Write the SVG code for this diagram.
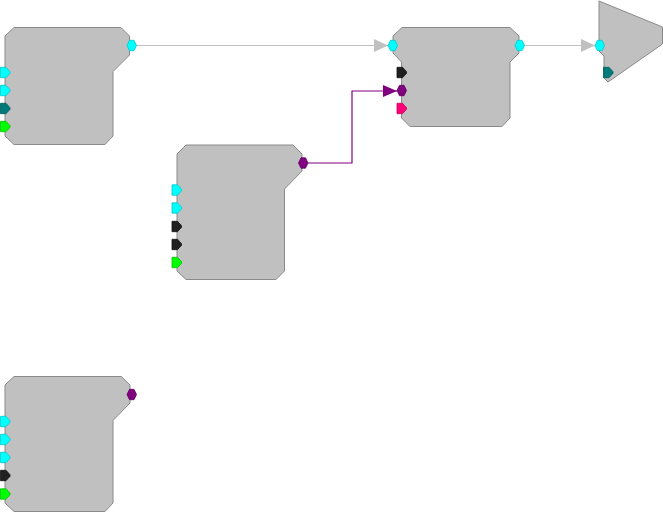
<svg xmlns="http://www.w3.org/2000/svg" width="663" height="512" viewBox="0 0 663 512">
<style>
.body{fill:#c0c0c0;stroke:#8a8a8a;stroke-width:1;stroke-linejoin:miter}
.cy{fill:#00ffff;stroke:#00c8c8}
.tl{fill:#007a7a;stroke:#005a5a}
.gr{fill:#00ff00;stroke:#00c000}
.bk{fill:#202020;stroke:#101010}
.pu{fill:#800080;stroke:#600060}
.pk{fill:#ff0078;stroke:#d00060}
.port{stroke-width:0.8;stroke-linejoin:round}
.wire-g{fill:none;stroke:#c0c0c0;stroke-width:1}
.wire-p{fill:none;stroke:#800080;stroke-width:1.2}
</style>
<defs>
<path id="pent" d="M0,-5.2 H5.5 L9.5,-0.8 V0.8 L5.5,5.2 H0 Z"/>
<path id="hex" d="M0,0 L2.5,-5.2 H7 L9.5,0 L7,5.2 H2.5 Z"/>
<marker id="ag" markerUnits="userSpaceOnUse" markerWidth="15" markerHeight="14" refX="14" refY="6.5" orient="auto">
<path d="M0,0 L14,6.5 L0,13 Z" fill="#c0c0c0"/>
</marker>
<marker id="ap" markerUnits="userSpaceOnUse" markerWidth="15" markerHeight="13" refX="14" refY="6" orient="auto">
<path d="M0,0 L14,6 L0,12 Z" fill="#800080"/>
</marker>
</defs>
<g id="connectors">
<path class="wire-g" d="M136,45.5 H388" marker-end="url(#ag)"/>
<path class="wire-g" d="M524,45.5 H595" marker-end="url(#ag)"/>
<path class="wire-p" d="M307.5,163 H352 V91 H397" marker-end="url(#ap)"/>
</g>
<g id="node1">
<path class="body" d="M5,36 L14,27.5 L121,27.5 L129.5,36 L129.5,55 L113,71.5 L113,136 L105,144.5 L14,144.5 L5,136 Z"/>
<use href="#pent" class="port cy" x="0.5" y="72.5"/>
<use href="#pent" class="port cy" x="0.5" y="90.5"/>
<use href="#pent" class="port tl" x="0.5" y="108.5"/>
<use href="#pent" class="port gr" x="0.5" y="126.5"/>
<use href="#hex" class="port cy" x="127" y="45.5"/>
</g>
<g id="node2">
<path class="body" d="M393,36 L402,27.5 L510,27.5 L519,36 L519,53 L510,62 L510,118 L502,126.5 L410,126.5 L401.5,118 L401.5,62 L393,53 Z"/>
<use href="#hex" class="port cy" x="388" y="45.5"/>
<use href="#pent" class="port bk" x="397" y="72.5"/>
<use href="#hex" class="port pu" x="397" y="90.5"/>
<use href="#pent" class="port pk" x="397" y="108.5"/>
<use href="#hex" class="port cy" x="515" y="45.5"/>
</g>
<g id="node3">
<path class="body" d="M177,154 L186,145 L293,145 L302,154 L302,171 L284.5,189 L284.5,271 L276,279.5 L186,279.5 L177,271 Z"/>
<use href="#pent" class="port cy" x="172" y="190"/>
<use href="#pent" class="port cy" x="172" y="208"/>
<use href="#pent" class="port bk" x="172" y="226.5"/>
<use href="#pent" class="port bk" x="172" y="244.5"/>
<use href="#pent" class="port gr" x="172" y="262.5"/>
<use href="#hex" class="port pu" x="298.5" y="163"/>
</g>
<g id="node4">
<path class="body" d="M599,1 L662.5,27 L662.5,44 L608,82 L604,78 L604,56 L599,51 Z"/>
<use href="#hex" class="port cy" x="595" y="45.5"/>
<use href="#pent" class="port tl" x="603.5" y="72.5"/>
</g>
<g id="node5">
<path class="body" d="M5,385 L14,376.5 L121.5,376.5 L130,385 L130,403 L113,420.5 L113,503 L105,511.5 L14,511.5 L5,503 Z"/>
<use href="#pent" class="port cy" x="0.5" y="421.5"/>
<use href="#pent" class="port cy" x="0.5" y="439.5"/>
<use href="#pent" class="port cy" x="0.5" y="457.5"/>
<use href="#pent" class="port bk" x="0.5" y="475.5"/>
<use href="#pent" class="port gr" x="0.5" y="494"/>
<use href="#hex" class="port pu" x="127" y="394.5"/>
</g>
</svg>
